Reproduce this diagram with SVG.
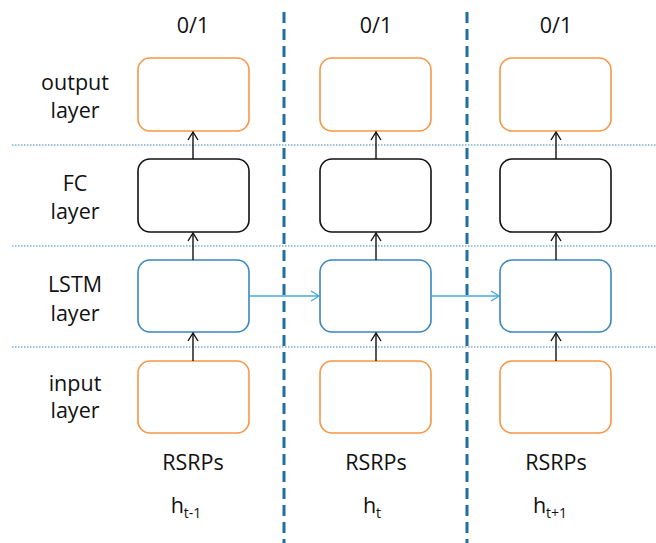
<svg xmlns="http://www.w3.org/2000/svg" width="656" height="543" viewBox="0 0 656 543">
<style>
.t{font-family:"Open Sans","Liberation Sans",sans-serif;font-size:21.5px;fill:#111;text-anchor:middle}
.s{font-size:14px}
.o{fill:#fff;stroke:#F79646;stroke-width:1.6}
.k{fill:#fff;stroke:#111;stroke-width:1.6}
.b{fill:#fff;stroke:#3A87BE;stroke-width:1.6}
.dot{stroke:#3A87BE;stroke-width:1.2;stroke-dasharray:1.5 1.5}
.dash{stroke:#1F6F9F;stroke-width:3;stroke-dasharray:11 6}
.a{stroke:#111;stroke-width:1.4;fill:none}
.h{stroke:#4AA8DA;stroke-width:1.4;fill:none}
</style>
<defs>
<marker id="ak" markerWidth="12" markerHeight="12" refX="10" refY="6" orient="auto" markerUnits="userSpaceOnUse"><path d="M2,1 L10,6 L2,11" fill="none" stroke="#111" stroke-width="1.4"/></marker>
<marker id="ab" markerWidth="12" markerHeight="12" refX="10" refY="6" orient="auto" markerUnits="userSpaceOnUse"><path d="M2,1 L10,6 L2,11" fill="none" stroke="#4AA8DA" stroke-width="1.4"/></marker>
</defs>
<g id="guides">
<line class="dot" x1="12" y1="145" x2="656" y2="145"/>
<line class="dot" x1="12" y1="246" x2="656" y2="246"/>
<line class="dot" x1="12" y1="347" x2="656" y2="347"/>
<line class="dash" x1="284" y1="12" x2="284" y2="543"/>
<line class="dash" x1="467" y1="12" x2="467" y2="543"/>
</g>
<g id="labels">
<text class="t" x="75" y="90">output</text><text class="t" x="75" y="118">layer</text>
<text class="t" x="75" y="191">FC</text><text class="t" x="75" y="219">layer</text>
<text class="t" x="75" y="292">LSTM</text><text class="t" x="75" y="321">layer</text>
<text class="t" x="75" y="391">input</text><text class="t" x="75" y="418">layer</text>
</g>
<g id="col1">
<text class="t" x="193" y="33">0/1</text>
<rect id="out1" class="o" x="138" y="58" width="111" height="73" rx="12"/>
<rect id="fc1" class="k" x="138" y="159" width="111" height="73" rx="12"/>
<rect id="lstm1" class="b" x="138" y="260" width="111" height="72" rx="12"/>
<rect id="in1" class="o" x="138" y="361" width="111" height="72" rx="12"/>
<text class="t" x="193" y="470">RSRPs</text>
<text class="t" x="186" y="513">h<tspan class="s" dy="5">t-1</tspan></text>
</g>
<g id="col2">
<text class="t" x="376" y="33">0/1</text>
<rect id="out2" class="o" x="320" y="58" width="111" height="73" rx="12"/>
<rect id="fc2" class="k" x="320" y="159" width="111" height="73" rx="12"/>
<rect id="lstm2" class="b" x="320" y="260" width="111" height="72" rx="12"/>
<rect id="in2" class="o" x="320" y="361" width="111" height="72" rx="12"/>
<text class="t" x="376" y="470">RSRPs</text>
<text class="t" x="372" y="513">h<tspan class="s" dy="5">t</tspan></text>
</g>
<g id="col3">
<text class="t" x="556" y="33">0/1</text>
<rect id="out3" class="o" x="500" y="58" width="111" height="73" rx="12"/>
<rect id="fc3" class="k" x="500" y="159" width="111" height="73" rx="12"/>
<rect id="lstm3" class="b" x="500" y="260" width="111" height="72" rx="12"/>
<rect id="in3" class="o" x="500" y="361" width="111" height="72" rx="12"/>
<text class="t" x="556" y="470">RSRPs</text>
<text class="t" x="550" y="513">h<tspan class="s" dy="5">t+1</tspan></text>
</g>
<g id="connectors">
<line class="a" x1="193" y1="159" x2="193" y2="132" marker-end="url(#ak)"/>
<line class="a" x1="193" y1="260" x2="193" y2="233" marker-end="url(#ak)"/>
<line class="a" x1="193" y1="361" x2="193" y2="333" marker-end="url(#ak)"/>
<line class="a" x1="376" y1="159" x2="376" y2="132" marker-end="url(#ak)"/>
<line class="a" x1="376" y1="260" x2="376" y2="233" marker-end="url(#ak)"/>
<line class="a" x1="376" y1="361" x2="376" y2="333" marker-end="url(#ak)"/>
<line class="a" x1="556" y1="159" x2="556" y2="132" marker-end="url(#ak)"/>
<line class="a" x1="556" y1="260" x2="556" y2="233" marker-end="url(#ak)"/>
<line class="a" x1="556" y1="361" x2="556" y2="333" marker-end="url(#ak)"/>
<line class="h" x1="249" y1="296" x2="319" y2="296" marker-end="url(#ab)"/>
<line class="h" x1="431" y1="296" x2="499" y2="296" marker-end="url(#ab)"/>
</g>
</svg>
